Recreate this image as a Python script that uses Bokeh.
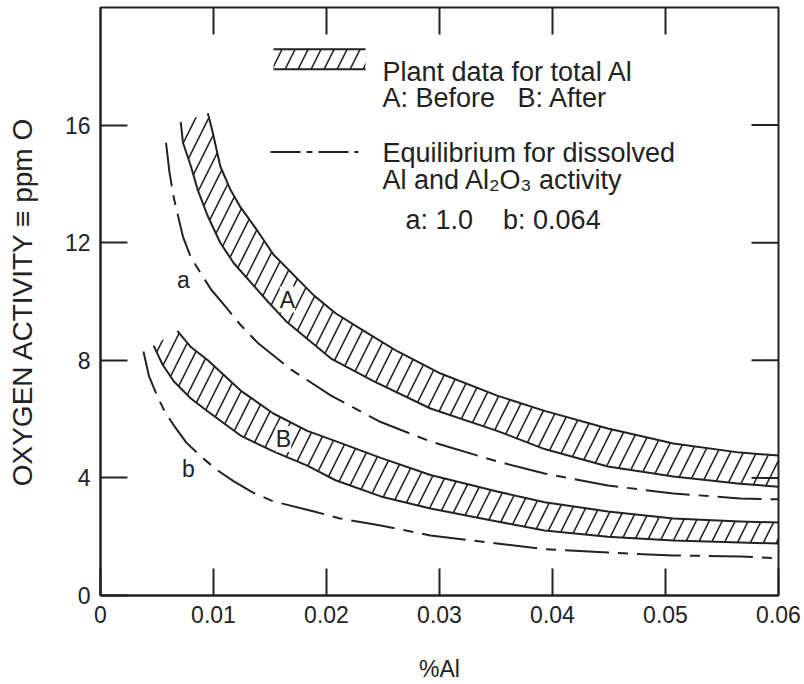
from bokeh.plotting import figure
from bokeh.models import FixedTicker, Label, BoxAnnotation, Range1d
from bokeh.embed import file_html
from bokeh.resources import INLINE

# ---------------- data ----------------
x_ticks = [0, 0.01, 0.02, 0.03, 0.04, 0.05, 0.06]
x_tick_labels = ["0", "0.01", "0.02", "0.03", "0.04", "0.05", "0.06"]
y_ticks = [0, 4, 8, 12, 16]
y_tick_labels = ["0", "4", "8", "12", "16"]

# Band A (plant data, before) - upper and lower edges
A_up_x = [0.0095, 0.0099, 0.0106, 0.0115, 0.0124, 0.0139, 0.0153, 0.0189, 0.0208, 0.0233, 0.0263, 0.0301, 0.0351, 0.0393, 0.0449, 0.0507, 0.0566, 0.0600]
A_up_y = [16.4, 15.8, 14.6, 13.8, 13.2, 12.4, 11.6, 10.2, 9.6, 9.0, 8.3, 7.55, 6.8, 6.28, 5.68, 5.17, 4.86, 4.76]
A_lo_x = [0.0071, 0.0073, 0.0080, 0.0086, 0.0095, 0.0106, 0.0118, 0.0148, 0.0165, 0.0204, 0.0242, 0.0292, 0.0351, 0.0393, 0.0449, 0.0507, 0.0566, 0.0600]
A_lo_y = [16.1, 15.4, 14.6, 13.8, 12.9, 12.0, 11.3, 10.0, 9.3, 8.06, 7.28, 6.36, 5.6, 4.98, 4.39, 4.05, 3.8, 3.7]

# Band B (plant data, after)
B_up_x = [0.0068, 0.0080, 0.0095, 0.0124, 0.0153, 0.0183, 0.0208, 0.0248, 0.0292, 0.0351, 0.0393, 0.0449, 0.0507, 0.0566, 0.0600]
B_up_y = [9.0, 8.45, 8.0, 6.97, 6.19, 5.6, 5.25, 4.68, 4.1, 3.54, 3.17, 2.86, 2.62, 2.52, 2.48]
B_lo_x = [0.0047, 0.0055, 0.0065, 0.0080, 0.0095, 0.0124, 0.0153, 0.0183, 0.0208, 0.0248, 0.0292, 0.0351, 0.0393, 0.0449, 0.0507, 0.0566, 0.0600]
B_lo_y = [8.5, 7.85, 7.28, 6.7, 6.26, 5.44, 4.9, 4.42, 3.92, 3.37, 2.96, 2.52, 2.21, 2.0, 1.87, 1.8, 1.77]

# Equilibrium curve a (Al2O3 activity 1.0)
a_x = [0.0058, 0.0061, 0.0065, 0.0073, 0.0080, 0.0088, 0.0098, 0.0109, 0.0124, 0.0139, 0.0168, 0.0204, 0.0248, 0.0292, 0.0351, 0.0393, 0.0449, 0.0507, 0.0566, 0.0600]
a_y = [15.4, 14.4, 13.5, 12.2, 11.5, 11.0, 10.4, 9.9, 9.2, 8.6, 7.7, 6.8, 5.9, 5.24, 4.56, 4.15, 3.74, 3.47, 3.3, 3.27]

# Equilibrium curve b (Al2O3 activity 0.064)
b_x = [0.0038, 0.0043, 0.0050, 0.0057, 0.0065, 0.0076, 0.0088, 0.0102, 0.0118, 0.0135, 0.0153, 0.0189, 0.0212, 0.0248, 0.0292, 0.0351, 0.0393, 0.0449, 0.0507, 0.0566, 0.0600]
b_y = [8.3, 7.45, 6.8, 6.25, 5.78, 5.2, 4.76, 4.3, 3.88, 3.5, 3.2, 2.86, 2.62, 2.38, 2.04, 1.77, 1.58, 1.46, 1.36, 1.33, 1.26]

# ---------------- layout ----------------
W, H = 804, 684
L, R, T, B = 100, 26, 7, 87
X0, X1 = 0.0, 0.06
Y0, Y1 = 0.0, 20.0
INK = "#222222"
FONT = "Liberation Sans"
TICK = 27  # inward tick length, px
NB = "\u00a0"


def fx(px):
    return X0 + (px - L) / (W - L - R) * (X1 - X0)


def fy(py):
    return Y0 + (H - B - py) / (H - T - B) * (Y1 - Y0)


p = figure(width=W, height=H, x_range=Range1d(X0, X1), y_range=Range1d(Y0, Y1),
           min_border_left=L, min_border_right=R, min_border_top=T, min_border_bottom=B,
           output_backend="svg", toolbar_location=None)
p.grid.visible = False
p.outline_line_color = INK
p.outline_line_width = 2
p.background_fill_color = "white"
p.border_fill_color = "white"

# main axes
xa = p.xaxis[0]
ya = p.yaxis[0]
xa.ticker = FixedTicker(ticks=x_ticks)
ya.ticker = FixedTicker(ticks=y_ticks)
xa.major_label_overrides = dict(zip(x_ticks, x_tick_labels))
ya.major_label_overrides = dict(zip(y_ticks, y_tick_labels))
xa.axis_label = "%Al"
ya.axis_label = "OXYGEN ACTIVITY \u2261 ppm O"
for ax in (xa, ya):
    ax.major_tick_in = TICK
    ax.major_tick_out = 0
    ax.minor_tick_line_color = None
    ax.axis_line_color = INK
    ax.axis_line_width = 2
    ax.major_tick_line_color = INK
    ax.major_tick_line_width = 2
    ax.major_label_text_font = FONT
    ax.major_label_text_font_size = "23px"
    ax.major_label_text_color = INK
    ax.axis_label_text_font = FONT
    ax.axis_label_text_font_style = "normal"
    ax.axis_label_text_color = INK
xa.major_label_standoff = 10
ya.major_label_standoff = 10
xa.axis_label_text_font_size = "23px"
ya.axis_label_text_font_size = "28px"
xa.axis_label_standoff = 30
ya.axis_label_standoff = 24

# top and right inward ticks (same tick values, drawn on the frame)
top_x = x_ticks[1:-1]
p.segment(x0=top_x, y0=[Y1] * len(top_x), x1=top_x, y1=[fy(T + TICK)] * len(top_x),
          line_color=INK, line_width=2)
right_y = y_ticks[1:]
p.segment(x0=[X1] * len(right_y), y0=right_y, x1=[fx(W - R - TICK)] * len(right_y), y1=right_y,
          line_color=INK, line_width=2)

HATCH = dict(fill_alpha=0, hatch_pattern="/", hatch_color=INK, hatch_weight=1.6, hatch_scale=26)

# bands
p.patch(A_up_x + A_lo_x[::-1], A_up_y + A_lo_y[::-1], line_alpha=0, **HATCH)
p.patch(B_up_x + B_lo_x[::-1], B_up_y + B_lo_y[::-1], line_alpha=0, **HATCH)
for xs, ys in ((A_up_x, A_up_y), (A_lo_x, A_lo_y), (B_up_x, B_up_y), (B_lo_x, B_lo_y)):
    p.line(xs, ys, line_color=INK, line_width=2, line_join="round")

# equilibrium curves
DASH = "44 9 10 9"
p.line(a_x, a_y, line_color=INK, line_width=2, line_dash=DASH, line_join="round")
p.line(b_x, b_y, line_color=INK, line_width=2, line_dash=DASH, line_join="round")


# curve / band labels
def lab(px, py, text, size="23px", bg=None):
    p.add_layout(Label(x=fx(px), y=fy(py), text=text, text_font=FONT, text_font_size=size,
                       text_color=INK, text_align="center", text_baseline="middle",
                       background_fill_color=bg, padding=0))

lab(287, 300, "A", bg="white")
lab(283, 440, "B", bg="white")
lab(183, 280, "a")
lab(188, 470, "b")

# legend
p.add_layout(BoxAnnotation(left=fx(273), right=fx(365), bottom=fy(69), top=fy(49),
                           line_alpha=0, **HATCH))
p.segment(x0=[fx(273), fx(273)], y0=[fy(49), fy(69)], x1=[fx(365), fx(365)], y1=[fy(49), fy(69)],
          line_color=INK, line_width=2)
p.line([fx(270), fx(358)], [fy(152), fy(152)], line_color=INK, line_width=2, line_dash="30 6 6 6")


def txt(px, py, text, size="27px"):
    p.add_layout(Label(x=fx(px), y=fy(py), text=text, text_font=FONT, text_font_size=size,
                       text_color=INK, text_align="left", text_baseline="alphabetic"))

txt(382, 72, "Plant data for total Al")
txt(382, 98, "A: Before" + NB * 3 + "B: After")
txt(382, 153, "Equilibrium for dissolved")
txt(382, 180, "Al and Al\u2082O\u2083 activity")
txt(405, 220, "a: 1.0" + NB * 4 + "b: 0.064")

open("out.html", "w").write(file_html(p, INLINE))
